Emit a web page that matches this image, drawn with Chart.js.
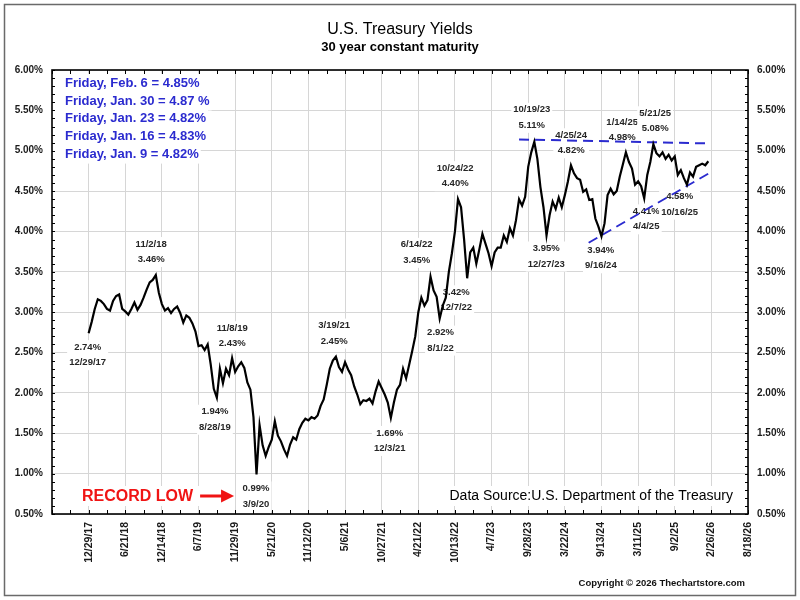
<!DOCTYPE html>
<html>
<head>
<meta charset="utf-8">
<script src="https://cdn.jsdelivr.net/npm/chart.js@4.4.1/dist/chart.umd.min.js"></script>
<style>
html,body{margin:0;padding:0;background:#fff;}
canvas{display:block;}
</style>
</head>
<body>
<canvas id="c" width="800" height="600"></canvas>
<script>
const FONT = '"Liberation Sans", Arial, Helvetica, sans-serif';

// x tick labels (one every ~120 trading sessions)
const xTickLabels = ['12/29/17','6/21/18','12/14/18','6/7/19','11/29/19','5/21/20','11/12/20','5/6/21',
  '10/27/21','4/21/22','10/13/22','4/7/23','9/28/23','3/22/24','9/13/24','3/11/25','9/2/25','2/26/26','8/18/26'];

// samples per tick-label interval (one sample every 10 trading sessions)
const samplesPerLabel = 12;

// 30-year constant maturity yield (%), starting 12/29/17
const yields = [
  2.74,2.88,3.04,3.16,3.14,3.10,3.04,3.02,3.14,3.20,3.22,3.04,
  3.01,2.97,3.04,3.12,3.03,3.09,3.18,3.28,3.37,3.40,3.46,3.24,
  3.10,3.02,3.05,2.99,3.04,3.07,2.99,2.87,2.96,2.93,2.86,2.76,
  2.58,2.59,2.53,2.60,2.35,2.05,1.94,2.30,2.12,2.30,2.22,2.43,
  2.26,2.33,2.38,2.31,2.13,2.04,1.70,0.99,1.60,1.35,1.22,1.33,
  1.42,1.65,1.47,1.40,1.30,1.22,1.36,1.45,1.42,1.55,1.63,1.68,
  1.66,1.70,1.68,1.72,1.84,1.92,2.10,2.30,2.40,2.45,2.32,2.26,
  2.38,2.29,2.22,2.08,1.98,1.86,1.91,1.90,1.93,1.87,2.02,2.14,
  2.06,1.98,1.88,1.69,1.88,2.04,2.10,2.30,2.18,2.35,2.52,2.70,
  3.00,3.18,3.08,3.15,3.44,3.27,3.19,2.92,3.08,3.18,3.50,3.73,
  4.00,4.40,4.30,3.90,3.42,3.74,3.80,3.60,3.78,3.97,3.85,3.73,
  3.57,3.74,3.80,3.80,3.95,3.87,4.04,3.95,4.14,4.40,4.32,4.43,
  4.80,4.98,5.11,4.90,4.55,4.30,3.95,4.20,4.37,4.28,4.42,4.30,
  4.45,4.62,4.82,4.72,4.66,4.64,4.49,4.52,4.39,4.40,4.16,4.06,
  3.94,4.10,4.45,4.53,4.46,4.50,4.68,4.83,4.98,4.86,4.78,4.58,
  4.62,4.56,4.41,4.70,4.86,5.08,4.97,4.93,4.98,4.90,4.95,4.88,
  4.93,4.70,4.76,4.66,4.58,4.73,4.68,4.80,4.82,4.84,4.82,4.87
];

// dashed trend lines (x in tick-label units, y in %)
const resistanceLine = [{x:11.75, y:5.14}, {x:16.97, y:5.09}];
const supportLine = [{x:13.65, y:3.86}, {x:16.97, y:4.73}];

// recent weekly readings
const weeklyNotes = ['Friday, Feb. 6 = 4.85%','Friday, Jan. 30 = 4.87 %','Friday, Jan. 23 = 4.82%',
  'Friday, Jan. 16 = 4.83%','Friday, Jan. 9 = 4.82%'];

// turning-point callouts: date, value, position (tick units), side, label offset
const callDates  = ['12/29/17','11/2/18','8/28/19','11/8/19','3/9/20','3/19/21','12/3/21','6/14/22','8/1/22','10/24/22',
  '12/7/22','10/19/23','12/27/23','4/25/24','9/16/24','1/14/25','5/21/25','4/4/25','10/16/25'];
const callValues = [2.74,3.46,1.94,2.43,0.99,2.45,1.69,3.45,2.92,4.40,3.42,5.11,3.95,4.82,3.94,4.98,5.08,4.41,4.58];
const callPos    = [0,1.79,3.475,3.92,4.57,6.73,8.22,9.31,9.58,10.06,10.31,12.125,12.52,13.2,14.01,14.675,15.41,15.14,16.27];
const callBelow  = [1,0,1,0,1,0,1,0,1,0,1,0,1,0,1,0,0,1,1];
const callDx     = [-1,-3,-1,0,0,-1,0,-13,1,-2,-10,-1,-1,-1,-1,-4,2,3,-5];
const callDy     = [14,-31,14,-30,14,-31,15,-31,14,-31,14,-32,13,-30,14,-30,-31,13,12];

const GRID = '#d6d6d6';
const BLUE = '#2b2bcf';

const yieldPoints = yields.map((v, i) => ({x: i / samplesPerLabel, y: v}));

function whiteBox(ctx, x, y, w, h){
  ctx.fillStyle = '#fff';
  ctx.fillRect(x, y, w, h);
}

const overlay = {
  id: 'overlay',
  beforeDatasetsDraw(chart){
    const ctx = chart.ctx;
    const xs = chart.scales.x, ys = chart.scales.y;
    const a = chart.chartArea;
    ctx.save();
    ctx.textBaseline = 'middle';
    // record low
    const ry = a.bottom - 18;
    ctx.textAlign = 'left';
    ctx.font = 'bold 16px ' + FONT;
    const rw = ctx.measureText('RECORD LOW').width;
    const tip = xs.getPixelForValue(callPos[4]) - 22;
    whiteBox(ctx, a.left + 28, ry - 10, tip - a.left - 27, 20);
    ctx.fillStyle = '#f01414';
    ctx.fillText('RECORD LOW', a.left + 30, ry + 0.5);
    const ax0 = a.left + 30 + rw + 7;
    ctx.fillRect(ax0, ry - 1.5, tip - 12 - ax0, 3);
    ctx.beginPath();
    ctx.moveTo(tip, ry);
    ctx.lineTo(tip - 13, ry - 6.5);
    ctx.lineTo(tip - 13, ry + 6.5);
    ctx.closePath();
    ctx.fill();
    // data source
    ctx.font = '14px ' + FONT;
    ctx.textAlign = 'right';
    const src = 'Data Source:U.S. Department of the Treasury';
    const sw = ctx.measureText(src).width;
    whiteBox(ctx, a.right - 15 - sw - 3, ry - 10, sw + 6, 20);
    ctx.fillStyle = '#000';
    ctx.fillText(src, a.right - 15, ry + 0.5);
    // callouts
    ctx.font = 'bold 9.5px ' + FONT;
    ctx.textAlign = 'center';
    for (let i = 0; i < callDates.length; i++){
      const cx = xs.getPixelForValue(callPos[i]) + callDx[i];
      const cy = ys.getPixelForValue(callValues[i]) + callDy[i];
      const valTxt = callValues[i].toFixed(2) + '%';
      const lines = callBelow[i] ? [valTxt, callDates[i]] : [callDates[i], valTxt];
      const w = Math.max(ctx.measureText(lines[0]).width, ctx.measureText(lines[1]).width) + 4;
      whiteBox(ctx, cx - w/2, cy - 7, w, 30);
      ctx.fillStyle = '#262626';
      ctx.fillText(lines[0], cx, cy);
      ctx.fillText(lines[1], cx, cy + 15.5);
    }
    // weekly notes
    ctx.font = 'bold 13px ' + FONT;
    ctx.textAlign = 'left';
    for (let k = 0; k < weeklyNotes.length; k++){
      const y = a.top + 13.3 + k * 17.7;
      const w = ctx.measureText(weeklyNotes[k]).width;
      whiteBox(ctx, a.left + 1, y - 9.5, w + 14, 19);
    }
    ctx.fillStyle = BLUE;
    for (let k = 0; k < weeklyNotes.length; k++){
      ctx.fillText(weeklyNotes[k], a.left + 13, a.top + 13.3 + k * 17.7);
    }
    ctx.restore();
  },
  afterDraw(chart){
    const ctx = chart.ctx;
    const xs = chart.scales.x, ys = chart.scales.y;
    const a = chart.chartArea;
    ctx.save();
    // minor tick marks
    ctx.strokeStyle = '#000';
    ctx.lineWidth = 1;
    ctx.beginPath();
    for (let v = ys.min; v <= ys.max + 1e-9; v += 0.1){
      const y = Math.round(ys.getPixelForValue(v)) + 0.5;
      ctx.moveTo(a.left, y); ctx.lineTo(a.left + 3, y);
      ctx.moveTo(a.right, y); ctx.lineTo(a.right - 3, y);
    }
    for (let u = xs.min; u <= xs.max + 1e-9; u += 0.5){
      const x = Math.round(xs.getPixelForValue(u)) + 0.5;
      ctx.moveTo(x, a.bottom); ctx.lineTo(x, a.bottom - 4);
      ctx.moveTo(x, a.top); ctx.lineTo(x, a.top + 4);
    }
    ctx.stroke();
    // plot border
    ctx.lineWidth = 1.6;
    ctx.strokeRect(a.left, a.top, a.right - a.left, a.bottom - a.top);
    // titles
    ctx.fillStyle = '#000';
    ctx.textAlign = 'center';
    ctx.textBaseline = 'middle';
    ctx.font = '16px ' + FONT;
    ctx.fillText('U.S. Treasury Yields', 400, 30);
    ctx.font = 'bold 13px ' + FONT;
    ctx.fillText('30 year constant maturity', 400, 47);
    // copyright
    ctx.font = 'bold 9.5px ' + FONT;
    ctx.textAlign = 'right';
    ctx.fillStyle = '#111';
    ctx.fillText('Copyright \u00A9 2026 Thechartstore.com', 745, 583);
    // outer frame
    ctx.strokeStyle = '#6a6a6a';
    ctx.lineWidth = 1.5;
    ctx.strokeRect(4.5, 4.5, 791, 591);
    ctx.restore();
  }
};

const yTick = v => v.toFixed(2) + '%';

new Chart(document.getElementById('c'), {
  type: 'line',
  data: {
    datasets: [
      { data: yieldPoints, borderColor: '#000', borderWidth: 2.2, pointRadius: 0, tension: 0, yAxisID: 'y' },
      { data: resistanceLine, borderColor: BLUE, borderWidth: 2, borderDash: [10, 6], pointRadius: 0, yAxisID: 'y' },
      { data: supportLine, borderColor: BLUE, borderWidth: 2, borderDash: [10, 6], pointRadius: 0, yAxisID: 'y' }
    ]
  },
  options: {
    responsive: false,
    devicePixelRatio: 1,
    animation: false,
    layout: { padding: { top: 70, left: 0, right: 0, bottom: 0 } },
    plugins: { legend: { display: false }, tooltip: { enabled: false } },
    scales: {
      x: {
        type: 'linear', min: -1, max: 18,
        afterBuildTicks: s => { s.ticks = xTickLabels.map((_, k) => ({ value: k })); },
        afterFit: s => { s.height = 86; },
        ticks: {
          autoSkip: false, minRotation: 90, maxRotation: 90, padding: 8,
          callback: v => xTickLabels[v],
          color: '#1a1a1a', font: { family: FONT, size: 10.5, weight: 'bold' }
        },
        grid: { color: GRID, lineWidth: 1, drawTicks: false },
        border: { display: false }
      },
      y: {
        type: 'linear', position: 'left', min: 0.5, max: 6,
        afterFit: s => { s.width = 52; },
        ticks: { stepSize: 0.5, padding: 9, callback: yTick, color: '#1a1a1a', font: { family: FONT, size: 10, weight: 'bold' } },
        grid: { color: GRID, lineWidth: 1, drawTicks: false },
        border: { display: false }
      },
      y2: {
        type: 'linear', position: 'right', min: 0.5, max: 6,
        afterFit: s => { s.width = 52; },
        ticks: { stepSize: 0.5, padding: 9, callback: yTick, color: '#1a1a1a', font: { family: FONT, size: 10, weight: 'bold' } },
        grid: { drawOnChartArea: false, drawTicks: false },
        border: { display: false }
      }
    }
  },
  plugins: [overlay]
});
</script>
</body>
</html>
